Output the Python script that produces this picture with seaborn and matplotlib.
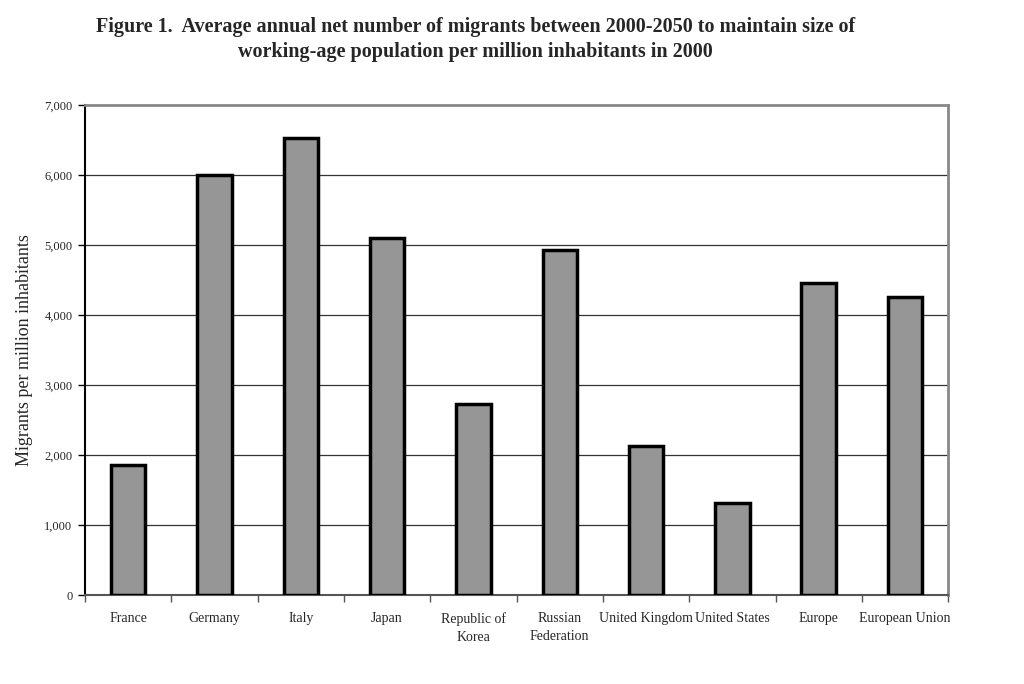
import numpy as np
import pandas as pd
import seaborn as sns
import matplotlib.pyplot as plt

# Dữ liệu
countries = ["France", "Germany", "Italy", "Japan", "Republic of\nKorea",
             "Russian\nFederation", "United Kingdom", "United States",
             "Europe", "European Union"]
migrants = [1860, 6000, 6530, 5100, 2730, 4930, 2130, 1310, 4460, 4260]

df = pd.DataFrame({"country": countries, "migrants": migrants})

sns.set_style("white")
plt.rcParams['font.family'] = ['Liberation Serif', 'DejaVu Serif']

fig = plt.figure(figsize=(10.24, 6.84), dpi=100)
ax = fig.add_axes([0.083, 0.130, 0.843, 0.716])

sns.barplot(data=df, x="country", y="migrants", color="#969696",
            saturation=1, width=0.4, edgecolor="black", linewidth=2.5,
            zorder=3, ax=ax)

ax.set_ylim(0, 7000)
ax.set_xlim(-0.5, len(countries) - 0.5)
ax.set_yticks(np.arange(0, 7001, 1000))
ax.set_yticklabels([f"{v:,}" for v in range(0, 7001, 1000)], fontsize=9)
ax.yaxis.grid(True, color="#333333", linewidth=0.9, zorder=0)
ax.set_axisbelow(True)

# nhãn trục x đặt giữa cột, vạch chia ở ranh giới
ax.set_xticks(range(len(countries)))
ax.set_xticklabels(countries, fontsize=10, linespacing=1.5)
ax.tick_params(axis="x", which="major", bottom=False, length=0, pad=12)
ax.set_xticks(np.arange(-0.5, len(countries)), minor=True)
ax.tick_params(axis="x", which="minor", bottom=True, length=5, width=1,
               direction="out", color="#555555")
ax.tick_params(axis="y", left=True, length=5, width=1, direction="out",
               color="black", pad=4)

ax.set_xlabel("")
ax.set_ylabel("Migrants per million inhabitants", fontsize=13, labelpad=8)

for s in ["top", "right"]:
    ax.spines[s].set_color("#888888")
    ax.spines[s].set_linewidth(2)
ax.spines["left"].set_color("black")
ax.spines["left"].set_linewidth(1.5)
ax.spines["bottom"].set_color("#555555")
ax.spines["bottom"].set_linewidth(1.5)

fig.text(0.464, 0.975, "Figure 1.  Average annual net number of migrants between 2000-2050 to maintain size of\n"
         "working-age population per million inhabitants in 2000",
         ha="center", va="top", fontsize=14.5, fontweight="bold", linespacing=1.35)

fig.savefig("out.png", dpi=100)
